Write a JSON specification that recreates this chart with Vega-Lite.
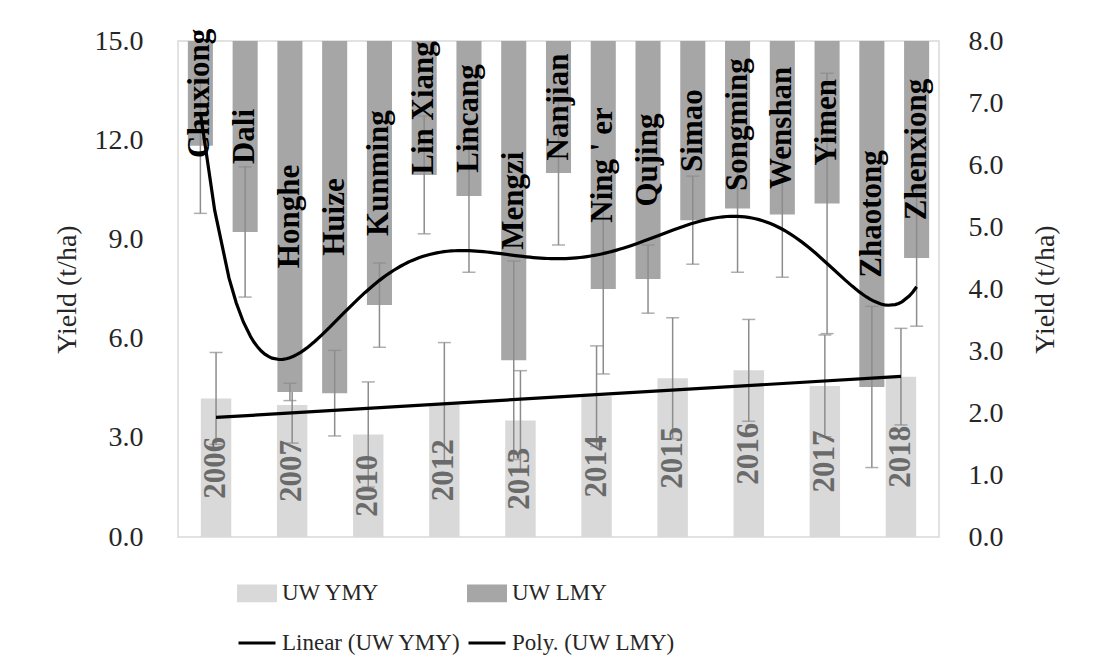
{
  "$schema": "https://vega.github.io/schema/vega-lite/v6.json",
  "width": 761,
  "height": 496,
  "autosize": {"type": "none"},
  "padding": {"left": 178, "top": 41, "right": 155, "bottom": 135},
  "background": "white",
  "config": {
    "view": {"stroke": "#d9d9d9", "strokeWidth": 1.5},
    "font": "Liberation Serif",
    "axis": {
      "labelFont": "Liberation Serif", "titleFont": "Liberation Serif",
      "labelFontSize": 28, "titleFontSize": 28, "titleFontWeight": "normal",
      "labelColor": "#262626", "titleColor": "#262626",
      "domain": false, "ticks": false, "grid": false
    },
    "legend": {"labelFont": "Liberation Serif", "labelFontSize": 23, "labelColor": "#262626"}
  },
  "datasets": {
    "ymy": [
      {"year": "2006", "ymy": 4.19, "sd": 1.39},
      {"year": "2007", "ymy": 3.99, "sd": 1.15},
      {"year": "2010", "ymy": 3.10, "sd": 1.59},
      {"year": "2012", "ymy": 4.04, "sd": 1.84},
      {"year": "2013", "ymy": 3.52, "sd": 1.51},
      {"year": "2014", "ymy": 4.26, "sd": 1.52},
      {"year": "2015", "ymy": 4.80, "sd": 1.83},
      {"year": "2016", "ymy": 5.04, "sd": 1.54},
      {"year": "2017", "ymy": 4.57, "sd": 1.54},
      {"year": "2018", "ymy": 4.85, "sd": 1.46}
    ],
    "lmy": [
      {"site": "Chuxiong", "lmy": 6.31, "sd": 1.09},
      {"site": "Dali", "lmy": 4.92, "sd": 1.05},
      {"site": "Honghe", "lmy": 2.34, "sd": 0.14},
      {"site": "Huize", "lmy": 2.32, "sd": 0.69},
      {"site": "Kunming", "lmy": 3.74, "sd": 0.68},
      {"site": "Lin Xiang", "lmy": 5.84, "sd": 0.95},
      {"site": "Lincang", "lmy": 5.50, "sd": 1.23},
      {"site": "Mengzi", "lmy": 2.85, "sd": 1.60},
      {"site": "Nanjian", "lmy": 5.87, "sd": 1.16},
      {"site": "Ning ' er", "lmy": 4.00, "sd": 1.37},
      {"site": "Qujing", "lmy": 4.16, "sd": 0.55},
      {"site": "Simao", "lmy": 5.11, "sd": 0.71},
      {"site": "Songming", "lmy": 5.30, "sd": 1.03},
      {"site": "Wenshan", "lmy": 5.20, "sd": 1.01},
      {"site": "Yimen", "lmy": 5.38, "sd": 2.10},
      {"site": "Zhaotong", "lmy": 2.42, "sd": 1.30},
      {"site": "Zhenxiong", "lmy": 4.50, "sd": 1.10}
    ]
  },
  "layer": [
    {
      "data": {"name": "ymy"},
      "mark": {"type": "bar"},
      "encoding": {
        "x": {"field": "year", "type": "nominal", "sort": null, "scale": {"paddingInner": 0.6, "paddingOuter": 0.3}, "axis": null},
        "y": {"field": "ymy", "type": "quantitative", "scale": {"domain": [0, 15], "nice": false},
              "axis": {"orient": "left", "values": [0, 3, 6, 9, 12, 15], "format": ".1f", "title": "Yield (t/ha)", "labelPadding": 35, "titlePadding": 13}},
        "color": {
          "datum": "UW YMY", "type": "nominal",
          "scale": {"domain": ["UW YMY", "UW LMY", "Linear (UW YMY)", "Poly. (UW LMY)"], "range": ["#d9d9d9", "#a6a6a6", "#000000", "#000000"]},
          "legend": {
            "orient": "none", "legendX": 59, "legendY": 532, "columns": 2, "direction": "horizontal", "title": null,
            "symbolSize": 1369, "symbolType": "M-1,-0.4H1V0.4H-1Z", "symbolStrokeWidth": 3,
            "labelOffset": 5, "rowPadding": 16, "columnPadding": 1, "labelLimit": 400, "padding": 0,
            "encode": {"symbols": {"update": {
              "shape": {"signal": "datum.value === 'UW YMY' || datum.value === 'UW LMY' ? 'M-1,-0.4H1V0.4H-1Z' : 'M-1,0H1'"},
              "fill": {"signal": "datum.value === 'UW YMY' ? '#d9d9d9' : datum.value === 'UW LMY' ? '#a6a6a6' : 'transparent'"},
              "stroke": {"signal": "datum.value === 'UW YMY' || datum.value === 'UW LMY' ? 'transparent' : '#000000'"},
              "strokeWidth": {"value": 3},
              "opacity": {"value": 1}
            }}}
          }
        }
      }
    },
    {
      "data": {"name": "ymy"},
      "mark": {"type": "errorbar", "ticks": {"size": 13, "thickness": 1.5, "color": "#8c8c8c"}, "rule": {"strokeWidth": 1.5, "color": "#8c8c8c"}},
      "encoding": {
        "x": {"field": "year", "type": "nominal", "sort": null, "scale": {"paddingInner": 0.6, "paddingOuter": 0.3}, "axis": null},
        "y": {"field": "ymy", "type": "quantitative", "scale": {"domain": [0, 15], "nice": false}, "axis": null},
        "yError": {"field": "sd"}
      }
    },
    {
      "data": {"name": "lmy"},
      "mark": {"type": "bar"},
      "encoding": {
        "x": {"field": "site", "type": "nominal", "sort": null, "scale": {"paddingInner": 0.44, "paddingOuter": 0.22}, "axis": null},
        "y": {"field": "lmy", "type": "quantitative", "scale": {"domain": [0, 8], "nice": false},
              "axis": {"orient": "right", "values": [0, 1, 2, 3, 4, 5, 6, 7, 8], "format": ".1f", "title": "Yield (t/ha)", "labelPadding": 29, "titlePadding": 28, "titleAngle": 270, "titleBaseline": "top"}},
        "y2": {"datum": 8},
        "color": {"datum": "UW LMY", "type": "nominal"}
      }
    },
    {
      "data": {"name": "lmy"},
      "mark": {"type": "errorbar", "ticks": {"size": 13, "thickness": 1.5, "color": "#8c8c8c"}, "rule": {"strokeWidth": 1.5, "color": "#8c8c8c"}},
      "encoding": {
        "x": {"field": "site", "type": "nominal", "sort": null, "scale": {"paddingInner": 0.44, "paddingOuter": 0.22}, "axis": null},
        "y": {"field": "lmy", "type": "quantitative", "scale": {"domain": [0, 8], "nice": false}, "axis": null},
        "yError": {"field": "sd"}
      }
    },
    {
      "data": {"name": "ymy"},
      "mark": {"type": "text", "angle": 270, "font": "Liberation Serif", "fontWeight": "bold", "fontSize": 31, "color": "#6a6a6a", "align": "center", "baseline": "middle"},
      "encoding": {
        "x": {"field": "year", "type": "nominal", "sort": null, "scale": {"paddingInner": 0.6, "paddingOuter": 0.3}, "axis": null},
        "y": {"field": "ymy", "type": "quantitative", "scale": {"domain": [0, 30], "nice": false}, "axis": null},
        "text": {"field": "year"}
      }
    },
    {
      "data": {"name": "lmy"},
      "mark": {"type": "text", "angle": 270, "font": "Liberation Serif", "fontWeight": "bold", "fontSize": 31, "color": "#000000", "align": "center", "baseline": "middle"},
      "encoding": {
        "x": {"field": "site", "type": "nominal", "sort": null, "scale": {"paddingInner": 0.44, "paddingOuter": 0.22}, "axis": null},
        "y": {"field": "lmy", "type": "quantitative", "scale": {"domain": [-8, 8], "nice": false}, "axis": null},
        "text": {"field": "site"}
      }
    },
    {
      "data": {"name": "ymy"},
      "transform": [{"window": [{"op": "row_number", "as": "idx"}]}, {"regression": "ymy", "on": "idx"}],
      "mark": {"type": "line", "strokeWidth": 3.2},
      "encoding": {
        "x": {"field": "idx", "type": "quantitative", "scale": {"domain": [0.5, 10.5], "nice": false, "zero": false}, "axis": null},
        "y": {"field": "ymy", "type": "quantitative", "scale": {"domain": [0, 15], "nice": false}, "axis": null},
        "color": {"datum": "Linear (UW YMY)", "type": "nominal"}
      }
    },
    {
      "data": {"name": "lmy"},
      "transform": [{"window": [{"op": "row_number", "as": "idx"}]}, {"regression": "lmy", "on": "idx", "method": "poly", "order": 6}],
      "mark": {"type": "line", "strokeWidth": 3.2},
      "encoding": {
        "x": {"field": "idx", "type": "quantitative", "scale": {"domain": [0.5, 17.5], "nice": false, "zero": false}, "axis": null},
        "y": {"field": "lmy", "type": "quantitative", "scale": {"domain": [0, 8], "nice": false}, "axis": null},
        "color": {"datum": "Poly. (UW LMY)", "type": "nominal"}
      }
    }
  ],
  "resolve": {"scale": {"x": "independent", "y": "independent"}}
}
